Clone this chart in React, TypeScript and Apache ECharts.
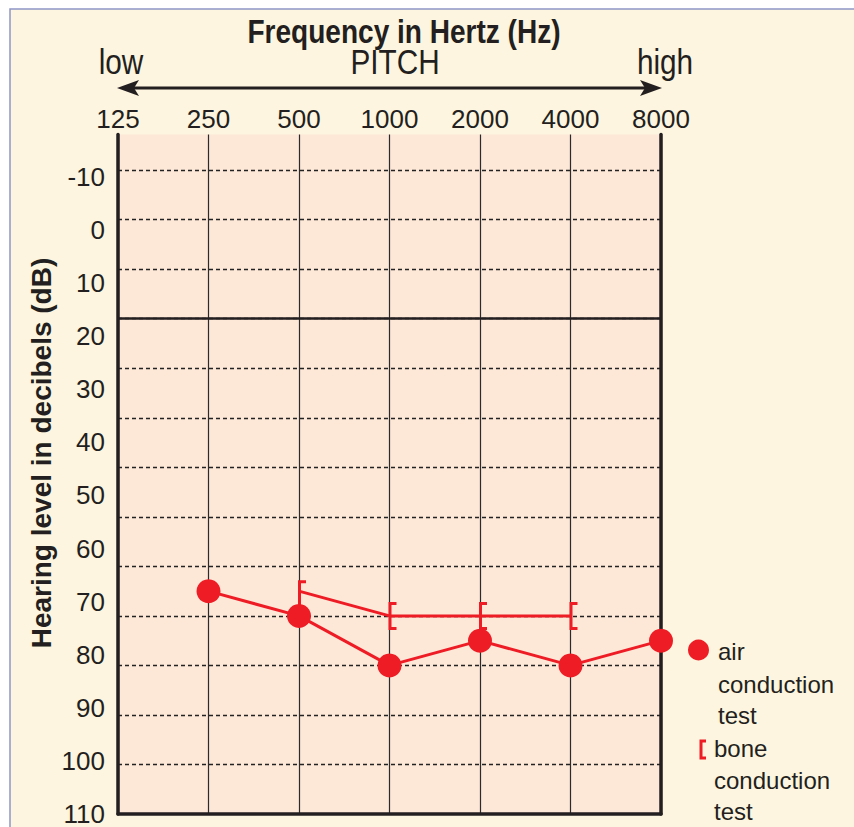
import React, { useEffect, useRef } from "react";
import * as echarts from "echarts";

// ---- data ----
const frequencies = ["125", "250", "500", "1000", "2000", "4000", "8000"];
const airConduction = [null, 75, 80, 90, 85, 90, 85];
const boneConduction = [null, null, 75, 80, 80, 80, null];
const gridValues = [-10, 0, 10, 20, 30, 40, 50, 60, 70, 80, 90, 100, 110];
const tickLabels = [-10, 0, 10, 20, 30, 40, 50, 60, 70, 80, 90, 100, 110];
const normalLimit = 20;

const RED = "#ee1c25";
const INK = "#231f20";
const SANS = '"Liberation Sans", Arial, sans-serif';
const BRACKET = "path://M0,0 L8,0 L8,3 L3,3 L3,25 L8,25 L8,28 L0,28 Z";
const CONDENSE = 0.85;

export default function App() {
  const ref = useRef<HTMLDivElement>(null);

  useEffect(() => {
    if (!ref.current) return;
    const chart = echarts.init(ref.current, undefined, { renderer: "svg" });

    const boneData = boneConduction.map((v, i) =>
      v == null
        ? null
        : {
            value: v,
            symbolSize: i === 2 ? [8, 30] : [8, 28],
            symbolOffset: i === 2 ? [3, 4] : [3, 0],
          }
    );

    const headText = (text: string, x: number, y: number, size: number, bold = false) => ({
      type: "text",
      x,
      y,
      scaleX: CONDENSE,
      style: {
        text,
        fontFamily: SANS,
        fontSize: size,
        fontWeight: bold ? "bold" : "normal",
        fill: INK,
        align: "center",
        verticalAlign: "middle",
      },
    });

    const option: any = {
      animation: false,
      backgroundColor: "#ffffff",
      grid: {
        left: 118,
        right: 193,
        top: 134.5,
        bottom: 10,
        show: true,
        backgroundColor: "#fde7d7",
        borderWidth: 0,
        containLabel: false,
      },
      xAxis: [
        {
          type: "category",
          position: "top",
          data: frequencies,
          boundaryGap: false,
          axisLine: { show: false },
          axisTick: { show: false },
          axisLabel: {
            interval: 0,
            margin: 16,
            verticalAlign: "middle",
            fontFamily: SANS,
            fontSize: 26,
            color: INK,
          },
          splitLine: { show: true, interval: 0, lineStyle: { color: "#2b2b2b", width: 1.2 } },
        },
        {
          type: "category",
          position: "bottom",
          data: frequencies,
          boundaryGap: false,
          axisLine: { show: true, onZero: false, lineStyle: { color: "#231f20", width: 3.5 } },
          axisTick: { show: false },
          axisLabel: { show: false },
          splitLine: { show: false },
        },
      ],
      yAxis: [
        {
          type: "value",
          inverse: true,
          position: "left",
          min: -17.2,
          max: 120,
          axisLine: { show: true, onZero: false, lineStyle: { color: "#231f20", width: 3.5 } },
          axisTick: { show: false, customValues: gridValues },
          axisLabel: { show: false },
          splitLine: {
            show: true,
            lineStyle: { color: "#222222", width: 1.4, type: [4, 3] },
          },
        },
        {
          type: "value",
          inverse: true,
          position: "left",
          min: -18,
          max: 110,
          axisLine: { show: false, onZero: false },
          axisTick: { show: false, customValues: tickLabels },
          axisLabel: {
            customValues: tickLabels,
            margin: 13,
            fontFamily: SANS,
            fontSize: 26,
            color: INK,
          },
          splitLine: { show: false },
        },
        {
          type: "value",
          inverse: true,
          position: "right",
          min: -17.2,
          max: 120,
          axisLine: { show: true, onZero: false, lineStyle: { color: "#231f20", width: 3.5 } },
          axisTick: { show: false },
          axisLabel: { show: false },
          splitLine: { show: false },
        },
      ],
      series: [
        {
          name: "bone conduction test",
          type: "line",
          xAxisIndex: 0,
          yAxisIndex: 0,
          data: boneData,
          symbol: BRACKET,
          itemStyle: { color: RED },
          lineStyle: { color: RED, width: 3 },
          z: 3,
        },
        {
          name: "air conduction test",
          type: "line",
          xAxisIndex: 0,
          yAxisIndex: 0,
          data: airConduction,
          symbol: "circle",
          symbolSize: 24,
          itemStyle: { color: RED },
          lineStyle: { color: RED, width: 3 },
          z: 4,
          markLine: {
            silent: true,
            symbol: "none",
            label: { show: false },
            lineStyle: { color: "#231f20", width: 2.5, type: "solid" },
            data: [{ yAxis: normalLimit }],
          },
        },
      ],
      graphic: [
        {
          type: "rect",
          z: -100,
          shape: { x: 10, y: 9, width: 900, height: 900 },
          style: { fill: "#fdf5df", stroke: "#8e96c8", lineWidth: 1.5 },
        },
        headText("Frequency in Hertz (Hz)", 404, 31, 33, true),
        headText("low", 121, 62, 35),
        headText("PITCH", 395, 62, 35),
        headText("high", 665, 62, 35),
        {
          type: "line",
          shape: { x1: 132, y1: 88, x2: 647, y2: 88 },
          style: { stroke: INK, lineWidth: 3 },
        },
        {
          type: "polygon",
          shape: { points: [[117, 88], [139, 80], [134, 88], [139, 96]] },
          style: { fill: INK },
        },
        {
          type: "polygon",
          shape: { points: [[662, 88], [640, 80], [645, 88], [640, 96]] },
          style: { fill: INK },
        },
        {
          type: "text",
          x: 41,
          y: 453,
          rotation: Math.PI / 2,
          style: {
            text: "Hearing level in decibels (dB)",
            fontFamily: SANS,
            fontSize: 28,
            fontWeight: "bold",
            fill: INK,
            align: "center",
            verticalAlign: "middle",
          },
        },
        {
          type: "circle",
          shape: { cx: 698.5, cy: 650, r: 10.5 },
          style: { fill: RED },
        },
        {
          type: "polyline",
          shape: { points: [[706, 741], [701, 741], [701, 758], [706, 758]] },
          style: { stroke: RED, lineWidth: 3, fill: "none" },
        },
        ...[
          ["air", 718, 651],
          ["conduction", 718, 684],
          ["test", 718, 715],
          ["bone", 714, 748],
          ["conduction", 714, 780],
          ["test", 714, 811],
        ].map(([t, x, y]) => ({
          type: "text",
          x: x as number,
          y: y as number,
          style: {
            text: t as string,
            fontFamily: SANS,
            fontSize: 24,
            fill: INK,
            align: "left",
            verticalAlign: "middle",
          },
        })),
      ],
    };

    chart.setOption(option);
    return () => chart.dispose();
  }, []);

  return (
    <div
      ref={ref}
      style={{ position: "fixed", left: 0, top: 0, width: 854, height: 827 }}
    />
  );
}
